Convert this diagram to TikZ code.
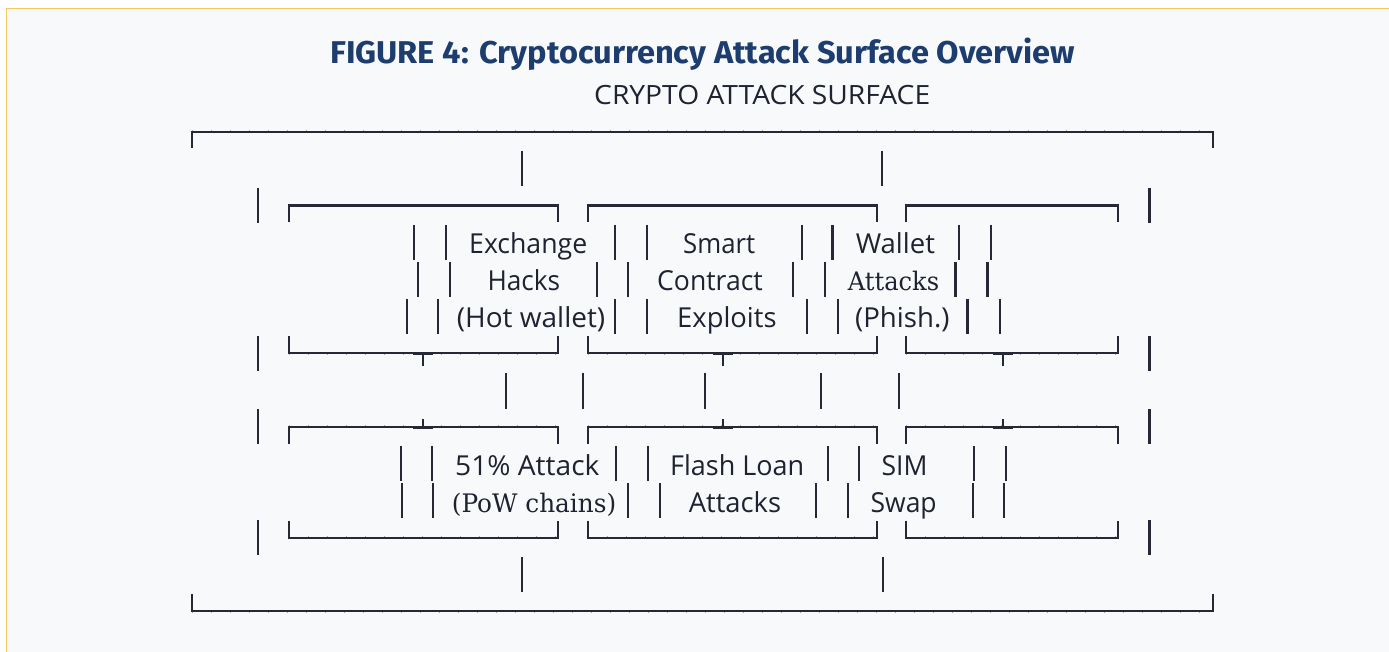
\documentclass[tikz,border=0pt]{standalone}
\usepackage{fontspec}
\usepackage{graphicx}
\setmainfont{Open Sans}
\newfontfamily\titlefont{Fira Sans}
\newfontfamily\seriffont{DejaVu Serif}
\definecolor{bgc}{HTML}{F8F9FB}
\definecolor{framec}{HTML}{F6C75E}
\definecolor{ink}{HTML}{262836}
\definecolor{txt}{HTML}{1F2230}
\definecolor{titleblue}{HTML}{1C3D6E}
\newcommand\fitw[2]{\sbox0{#2}\pgfmathsetmacro\fitsx{(#1)/\the\wd0}\scalebox{\fitsx}[1]{\usebox0}}
\newcommand\lab[5]{\node[lbl] (#1) at (#2,#4) {\fitw{#3-#2}{#5}};}
\begin{document}
\begin{tikzpicture}[x=1pt,y=-1pt,
  ln/.style={draw=ink,line width=2.1pt},
  tk/.style={draw=ink!40,line width=2.9pt,dash pattern=on 1pt off 18pt},
  lbl/.style={anchor=base west,inner sep=0pt,text=txt,font=\fontsize{27.5}{30}\selectfont}]
\useasboundingbox (0,0) rectangle (1389,652);
\fill[white] (0,0) rectangle (1389,652);
\fill[bgc] (6.5,8.3) rectangle (1389,652);
\draw[framec,line width=1.5pt] (6.5,652) -- (6.5,8.3) -- (1389,8.3);
% title
\node[anchor=base west,inner sep=0pt,text=titleblue,font={\titlefont\bfseries\fontsize{31.5}{34}\selectfont}] (title) at (330,64) {\fitw{745}{FIGURE 4: Cryptocurrency Attack Surface Overview}};
\node[anchor=base west,inner sep=0pt,text=txt,font={\fontsize{26.5}{30}\selectfont}] (sub) at (594,105) {\fitw{336}{CRYPTO ATTACK SURFACE}};
% outer frame
\draw[tk] (192,131.7) -- (1213,131.7);
\draw[tk] (192,611.4) -- (1213,611.4);
\draw[ln] (192,148) -- (192,131.7) -- (1213,131.7) -- (1213,148);
\draw[ln] (192,594) -- (192,611.4) -- (1213,611.4) -- (1213,594);
% row bars
\foreach \x in {522,882} \draw[ln] (\x,151) -- (\x,186);
\foreach \x in {522,883} \draw[ln] (\x,557) -- (\x,592);
\foreach \c in {205.5,353.1,426.9,537.6}{
  \draw[ln] (258,\c-17.5) -- (258,\c+17.5);
  \draw[ln] (1149.5,\c-17.5) -- (1149.5,\c+17.5);
}
% box tops (row 2 and row 8) and bottoms (row 6 and row 11)
\foreach \a/\b in {289/558,588/877,906/1118}{
  \draw[tk] (\a,205.5) -- (\b,205.5);
  \draw[tk] (\a,353.1) -- (\b,353.1);
  \draw[tk] (\a,426.9) -- (\b,426.9);
  \draw[tk] (\a,537.6) -- (\b,537.6);
  \draw[ln] (\a,222.5) -- (\a,205.5) -- (\b,205.5) -- (\b,222.5);
  \draw[ln] (\a,336) -- (\a,353.1) -- (\b,353.1) -- (\b,336);
  \draw[ln] (\a,444) -- (\a,426.9) -- (\b,426.9) -- (\b,444);
  \draw[ln] (\a,520.5) -- (\a,537.6) -- (\b,537.6) -- (\b,520.5);
}
% junctions
\foreach \x in {423,723,1003}{
  \draw[ln] (\x-10,354.4) -- (\x+10,354.4);
  \draw[ln] (\x,354.4) -- (\x,365.5);
  \draw[ln] (\x-10,428.2) -- (\x+10,428.2);
  \draw[ln] (\x,428.2) -- (\x,419);
}
% row 7 bars
\foreach \x in {506,583,705,821,899} \draw[ln] (\x,373) -- (\x,408.5);
% row 3
\foreach \x in {414,446,615,647,801.6,832.5,959,991} \draw[ln] (\x,225) -- (\x,260);
\lab{exch}{469}{587}{253.9}{Exchange}
\lab{smart}{683}{755}{253.9}{Smart}
\lab{wallet}{855.6}{934.8}{253.9}{Wallet}
% row 4
\foreach \x in {418,450,596.7,628.3,793,824.6,955.5,987.5} \draw[ln] (\x,262) -- (\x,297);
\lab{hacks}{487.3}{560}{290.8}{Hacks}
\lab{contract}{657}{762.6}{290.8}{Contract}
\node[lbl,font={\seriffont\fontsize{25.5}{30}\selectfont}] (wattacks) at (847.7,290.8) {\fitw{939-847.7}{Attacks}};
% row 5
\foreach \x in {407,438.3,615,647,806.7,837.7,967.5,999.6} \draw[ln] (\x,299) -- (\x,334);
\lab{hot}{456.7}{605}{327.7}{(Hot wallet)}
\lab{exploits}{677}{776.4}{327.7}{Exploits}
\lab{phish}{855}{949.3}{327.7}{(Phish.)}
% row 9
\foreach \x in {400.7,432.3,616,648.3,828,859,974.4,1006.4} \draw[ln] (\x,446.3) -- (\x,481.3);
\lab{fiftyone}{455}{599.3}{475.3}{51\% Attack}
\lab{flash}{670}{804}{475.3}{Flash Loan}
\lab{sim}{881.4}{927.2}{475.3}{SIM}
% row 10
\foreach \x in {401.7,433.3,627.7,660,816,848,972.7,1004.4} \draw[ln] (\x,483.2) -- (\x,518.2);
\node[lbl,font={\seriffont\fontsize{25.5}{30}\selectfont}] (pow) at (451.7,512.2) {\fitw{616-451.7}{(PoW chains)}};
\lab{fattacks}{688.6}{780.9}{512.2}{Attacks}
\lab{swap}{870.4}{936.5}{512.2}{Swap}
\end{tikzpicture}
\end{document}
